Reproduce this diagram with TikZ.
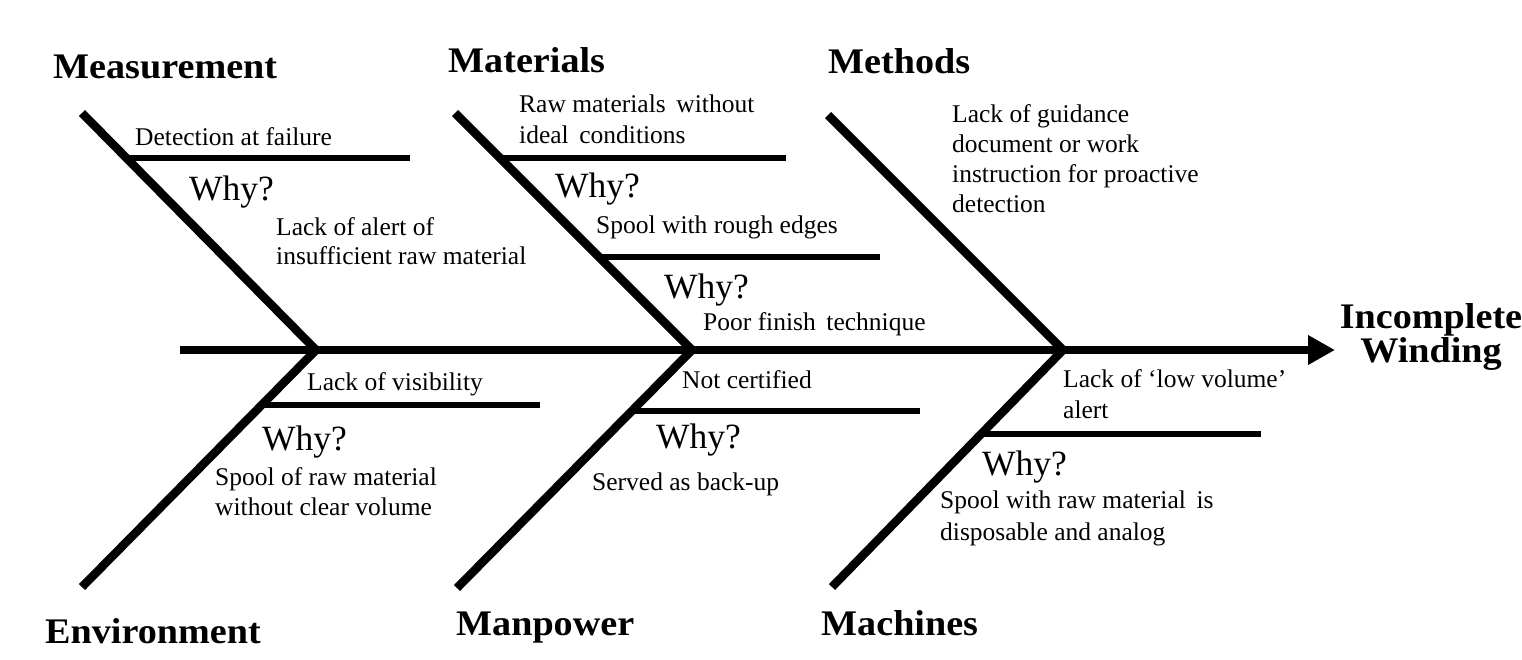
\documentclass[tikz,border=0pt]{standalone}
\usepackage{fontspec}
\setmainfont{Liberation Serif}
\newfontfamily\lblfamily[FakeStretch=1.06]{Liberation Serif}
\usetikzlibrary{arrows.meta}
\newcommand\causefont{\fontsize{25.5}{30}\selectfont}
\newcommand\whyfont{\fontsize{35.5}{40}\selectfont}
\newcommand\catfont{\lblfamily\bfseries\fontsize{36}{36}\selectfont}
\tikzset{
  bone/.style={line width=8.5pt, line join=miter},
  spine/.style={line width=8pt, -{Triangle[length=27pt,width=28pt]}},
  twig/.style={line width=5.5pt},
  cause/.style={font=\causefont, anchor=base west, inner sep=0pt, align=left},
  whylbl/.style={font=\whyfont, anchor=base west, inner sep=0pt},
  cat/.style={font=\catfont, anchor=base west, inner sep=0pt},
}
\begin{document}
\begin{tikzpicture}[x=1pt,y=-1pt]
\useasboundingbox (0,0) rectangle (1522,659);
% bone end points
\coordinate (tail) at (180,350);
\coordinate (head) at (1335,350);
\coordinate (j1) at (316,350);
\coordinate (j2) at (692,350);
\coordinate (j3) at (1063,350);
\coordinate (measTop) at (82,113);
\coordinate (envBot) at (82,587);
\coordinate (matTop) at (455,113);
\coordinate (manBot) at (457,588);
\coordinate (metTop) at (828,115);
\coordinate (macBot) at (832,587);
% twig coordinates
\coordinate (t1a) at (127,158); \coordinate (t1b) at (410,158);
\coordinate (t2a) at (500,158); \coordinate (t2b) at (786,158);
\coordinate (t3a) at (598,257); \coordinate (t3b) at (880,257);
\coordinate (t4a) at (262,405); \coordinate (t4b) at (540,405);
\coordinate (t5a) at (632,411); \coordinate (t5b) at (920,411);
\coordinate (t6a) at (982,434); \coordinate (t6b) at (1261,434);

\draw[spine] (tail) -- (head);
\draw[bone] (measTop) -- (j1) -- (envBot);
\draw[bone] (matTop) -- (j2) -- (manBot);
\draw[bone] (metTop) -- (j3) -- (macBot);

\draw[twig] (t1a) -- (t1b);
\draw[twig] (t2a) -- (t2b);
\draw[twig] (t3a) -- (t3b);
\draw[twig] (t4a) -- (t4b);
\draw[twig] (t5a) -- (t5b);
\draw[twig] (t6a) -- (t6b);

% categories
\node[cat] (meas) at (53,78) {Measurement};
\node[cat] (mat) at (448,72) {Materials};
\node[cat] (met) at (828,73) {Methods};
\node[cat] (env) at (45,643) {Environment};
\node[cat] (man) at (456,635) {Manpower};
\node[cat] (mac) at (821,635) {Machines};
\node[font=\catfont, align=center, anchor=base, inner sep=0pt] (effect) at (1431,362) {Incomplete\\[-2pt]Winding};

% causes (anchor = baseline of last line)
\node[cause] (c1) at (135,145) {Detection at failure};
\node[whylbl] (w1) at (189,200) {Why?};
\node[cause] (c2) at (276,264) {Lack of alert of\\[-1pt]insufficient raw material};

\node[cause] (c3) at (519,143) {Raw materials\, without\\[1pt]ideal\, conditions};
\node[whylbl] (w2) at (555,197) {Why?};
\node[cause] (c4) at (596,233) {Spool with rough edges};
\node[whylbl] (w3) at (664,298) {Why?};
\node[cause] (c5) at (703,330) {Poor finish\, technique};

\node[cause] (c6) at (952,212) {Lack of guidance\\document or work\\instruction for proactive\\detection};

\node[cause] (c7) at (307,390) {Lack of visibility};
\node[whylbl] (w4) at (262,450) {Why?};
\node[cause] (c8) at (215,515) {Spool of raw material\\without clear volume};

\node[cause] (c9) at (682,388) {Not certified};
\node[whylbl] (w5) at (656,448) {Why?};
\node[cause] (c10) at (592,490) {Served as back-up};

\node[cause] (c11) at (1063,418) {Lack of \textquoteleft low volume\textquoteright\\[1pt]alert};
\node[whylbl] (w6) at (982,475) {Why?};
\node[cause] (c12) at (940,540) {Spool with raw material\, is\\[2pt]disposable and analog};
\end{tikzpicture}
\end{document}
